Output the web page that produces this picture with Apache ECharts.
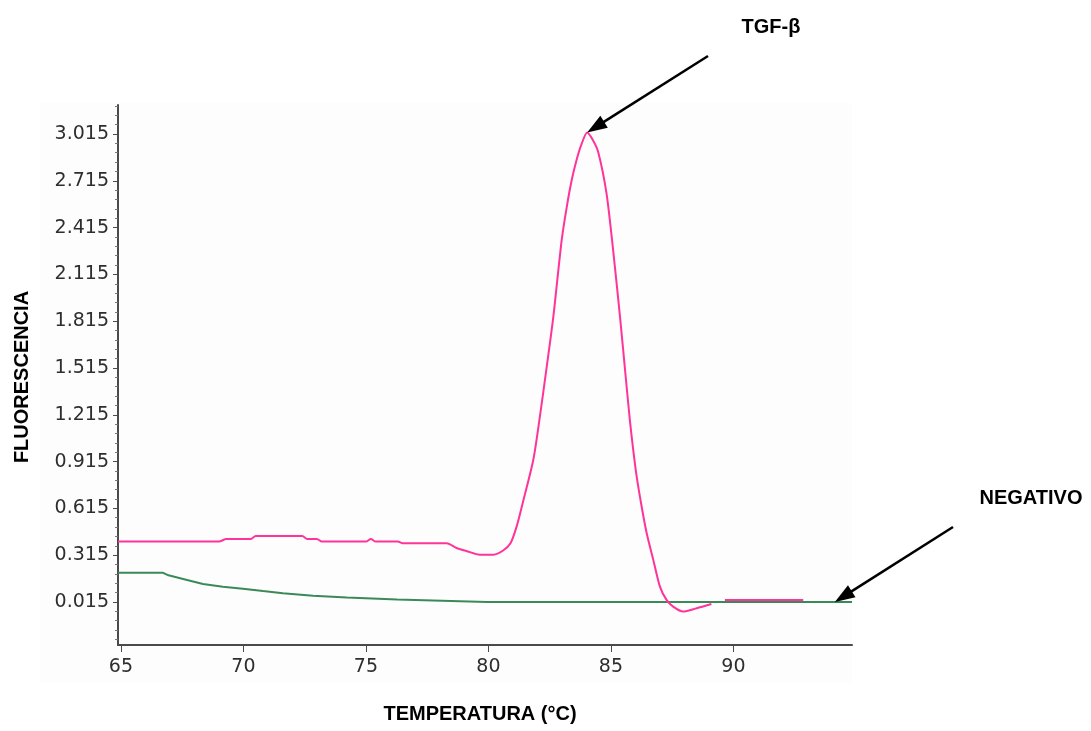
<!DOCTYPE html>
<html>
<head>
<meta charset="utf-8">
<script src="https://cdn.jsdelivr.net/npm/echarts@6/dist/echarts.min.js"></script>
<style>html,body{margin:0;padding:0;background:#fff;}#c{width:1091px;height:731px;}</style>
</head>
<body>
<div id="c"></div>
<script>
// ---- data ----
const tgfTemp = [64.88, 69.0, 69.3, 70.3, 70.5, 72.4, 72.6, 73.0, 73.2, 75.0, 75.2, 75.4, 76.3, 76.5, 78.3, 78.7, 79.1, 79.65, 80.2, 80.6, 80.9, 81.15, 81.4, 81.83, 82.1, 82.38, 82.65, 82.99, 83.2, 83.4, 83.6, 83.8, 84.03, 84.25, 84.48, 84.82, 85.09, 85.37, 85.62, 85.78, 85.91, 86.05, 86.25, 86.46, 86.73, 87.0, 87.27, 87.54, 87.95, 88.5, 89.1, 89.4, 89.65, 92.85];
const tgfFluo = [0.402, 0.402, 0.419, 0.419, 0.438, 0.438, 0.419, 0.419, 0.402, 0.402, 0.419, 0.402, 0.402, 0.391, 0.391, 0.361, 0.342, 0.318, 0.318, 0.345, 0.391, 0.498, 0.65, 0.925, 1.203, 1.523, 1.844, 2.335, 2.55, 2.72, 2.85, 2.95, 3.025, 2.98, 2.9, 2.635, 2.271, 1.844, 1.43, 1.17, 0.99, 0.82, 0.63, 0.455, 0.284, 0.113, 0.028, -0.015, -0.047, -0.025, 0.002, null, 0.028, 0.028];
const negTemp = [64.88, 66.7, 66.9, 67.7, 68.35, 69.16, 69.98, 70.8, 71.61, 72.84, 74.22, 76.27, 79.94, 94.84];
const negFluo = [0.203, 0.203, 0.188, 0.156, 0.130, 0.113, 0.100, 0.085, 0.071, 0.055, 0.043, 0.030, 0.015, 0.015];
const xTicks = [65, 70, 75, 80, 85, 90];
const yTicks = [0.015, 0.315, 0.615, 0.915, 1.215, 1.515, 1.815, 2.115, 2.415, 2.715, 3.015];
const yMinorStep = 0.06;
const tgfPeak = [84.03, 3.025];
const negPoint = [94.14, 0.015];

const xMin = 64.88, xMax = 94.84, yMin = -0.261, yMax = 3.201;
const yMinor = [];
for (let v = yTicks[0] - 4 * yMinorStep; v <= yMax; v += yMinorStep) {
  const r = Math.round(v * 1000) / 1000;
  if (r >= yMin && !yTicks.some(t => Math.abs(t - r) < 1e-6)) yMinor.push(r);
}

const axisColor = '#4a4a4a';
const labelFont = { fontFamily: 'DejaVu Sans', fontSize: 19, color: '#2e2e2e' };

const chart = echarts.init(document.getElementById('c'), null, { renderer: 'canvas' });
const option = {
  animation: false,
  backgroundColor: '#ffffff',
  grid: { left: 118, right: 239, top: 105, bottom: 86, outerBoundsMode: 'none', containLabel: false },
  xAxis: {
    type: 'value', min: xMin, max: xMax,
    splitLine: { show: false },
    axisLine: { show: true, onZero: false, lineStyle: { color: axisColor, width: 2 } },
    axisTick: { show: true, customValues: xTicks, length: 7, lineStyle: { color: axisColor, width: 1 } },
    axisLabel: Object.assign({ customValues: xTicks, margin: 13, formatter: v => String(Math.round(v)) }, labelFont)
  },
  yAxis: [{
    type: 'value', min: yMin, max: yMax, position: 'left',
    splitLine: { show: false },
    axisLine: { show: true, onZero: false, lineStyle: { color: axisColor, width: 2 } },
    axisTick: { show: true, customValues: yTicks, length: 5, lineStyle: { color: axisColor, width: 1 } },
    axisLabel: Object.assign({ customValues: yTicks, margin: 9, formatter: v => v.toFixed(3) }, labelFont)
  }, {
    type: 'value', min: yMin, max: yMax, position: 'left',
    splitLine: { show: false },
    axisLine: { show: false },
    axisTick: { show: true, customValues: yMinor, length: 3, lineStyle: { color: '#777', width: 1 } },
    axisLabel: { show: false }
  }],
  series: [{
    name: 'TGF-β', type: 'line', yAxisIndex: 0,
    data: tgfTemp.map((t, i) => [t, tgfFluo[i]]),
    showSymbol: false, smooth: 0.25, connectNulls: false,
    lineStyle: { color: '#ff3399', width: 2 }, z: 3
  }, {
    name: 'NEGATIVO', type: 'line', yAxisIndex: 0,
    data: negTemp.map((t, i) => [t, negFluo[i]]),
    showSymbol: false,
    lineStyle: { color: '#3a8a58', width: 2 }, z: 2
  }]
};
chart.setOption(option);

function arrow(tail, tip) {
  const dx = tip[0] - tail[0], dy = tip[1] - tail[1];
  const len = Math.sqrt(dx * dx + dy * dy);
  const ux = dx / len, uy = dy / len, nx = -uy, ny = ux;
  const L = 20, W = 7;
  const bx = tip[0] - L * ux, by = tip[1] - L * uy;
  return [
    { type: 'line', shape: { x1: tail[0], y1: tail[1], x2: bx + 4 * ux, y2: by + 4 * uy }, style: { stroke: '#000', lineWidth: 2.5 }, z: 10 },
    { type: 'polygon', shape: { points: [[tip[0], tip[1]], [bx + W * nx, by + W * ny], [bx - W * nx, by - W * ny]] }, style: { fill: '#000' }, z: 10 }
  ];
}
const tip1 = chart.convertToPixel({ gridIndex: 0 }, tgfPeak);
const tip2 = chart.convertToPixel({ gridIndex: 0 }, negPoint);
const titleFont = 'bold 20px "Liberation Sans", Arial, sans-serif';
chart.setOption({
  graphic: [
    { type: 'rect', shape: { x: 40, y: 103, width: 812, height: 580 }, style: { fill: '#fdfdfd' }, z: -10, silent: true },
    { type: 'text', x: 22, y: 377, rotation: Math.PI / 2, style: { text: 'FLUORESCENCIA', font: titleFont, fill: '#000', align: 'center', verticalAlign: 'middle' }, z: 10 },
    { type: 'text', x: 480, y: 714, style: { text: 'TEMPERATURA (°C)', font: titleFont, fill: '#000', align: 'center', verticalAlign: 'middle' }, z: 10 },
    { type: 'text', x: 771, y: 27, style: { text: 'TGF-β', font: titleFont, fill: '#000', align: 'center', verticalAlign: 'middle' }, z: 10 },
    { type: 'text', x: 1031, y: 498, style: { text: 'NEGATIVO', font: titleFont, fill: '#000', align: 'center', verticalAlign: 'middle' }, z: 10 }
  ].concat(arrow([708, 56], tip1)).concat(arrow([953, 527], tip2))
});
</script>
</body>
</html>
